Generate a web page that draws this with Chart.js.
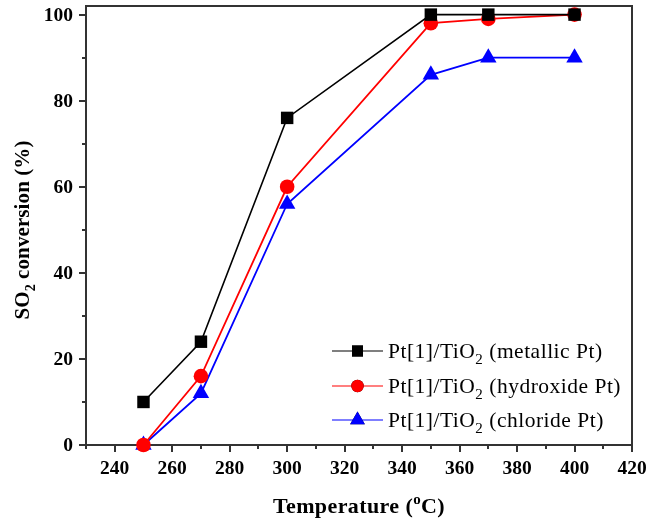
<!DOCTYPE html>
<html>
<head>
<meta charset="utf-8">
<script src="https://cdn.jsdelivr.net/npm/chart.js@4"></script>
<style>
  html, body { margin: 0; padding: 0; background: #fff; }
  #wrap { width: 659px; height: 521px; position: relative; }
</style>
</head>
<body>
<div id="wrap"><canvas id="c" width="659" height="521"></canvas></div>
<script>
// Reaction temperatures (°C)
const temperatures = [250, 270, 300, 350, 370, 400];
// SO2 conversion (%) for each catalyst precursor
const metallicPt  = [10, 24, 76, 100, 100, 100];
const hydroxidePt = [0, 16, 60, 98, 99, 100];
const chloridePt  = [0, 12, 56, 86, 90, 90];

const seriesNames = ['(metallic Pt)', '(hydroxide Pt)', '(chloride Pt)'];
const xTickLabels = [240, 260, 280, 300, 320, 340, 360, 380, 400, 420];
const yTickLabels = [0, 20, 40, 60, 80, 100];

const SERIF = '"Liberation Serif", "Times New Roman", serif';
const FRAME = '#333333';

function pts(ys) { return temperatures.map((t, i) => ({ x: t, y: ys[i] })); }

// Frame, tick marks (major every 20, minor every 10) and tick labels
const framePlugin = {
  id: 'frame',
  beforeDatasetsDraw(chart) {
    const { ctx, chartArea: a, scales: { x, y } } = chart;
    ctx.save();
    ctx.strokeStyle = FRAME;
    ctx.lineWidth = 2;
    ctx.strokeRect(a.left, a.top, a.right - a.left, a.bottom - a.top);
    ctx.beginPath();
    for (let v = 230; v <= 420; v += 10) {
      const px = Math.round(x.getPixelForValue(v));
      const len = v % 20 === 0 ? 7 : 4;
      ctx.moveTo(px, a.bottom);
      ctx.lineTo(px, a.bottom + len);
    }
    for (let v = 0; v <= 100; v += 10) {
      const py = Math.round(y.getPixelForValue(v));
      const len = v % 20 === 0 ? 7 : 4;
      ctx.moveTo(a.left, py);
      ctx.lineTo(a.left - len, py);
    }
    ctx.stroke();

    ctx.fillStyle = '#000';
    ctx.font = `bold 19.5px ${SERIF}`;
    ctx.textBaseline = 'middle';
    ctx.textAlign = 'center';
    xTickLabels.forEach(v => ctx.fillText(String(v), x.getPixelForValue(v), a.bottom + 24));
    ctx.textAlign = 'right';
    yTickLabels.forEach(v => ctx.fillText(String(v), a.left - 13, y.getPixelForValue(v) + 1));
    ctx.restore();
  }
};

// Text with a lowered/raised small piece: parts = [[text, mode], ...]
function drawRich(ctx, parts, size, weight, x, y, align, spacing) {
  const small = Math.round(size * 0.68);
  const fontFor = m => `${weight} ${m === 'n' ? size : small}px ${SERIF}`;
  ctx.letterSpacing = (spacing || 0) + 'px';
  let total = 0;
  parts.forEach(([t, m]) => { ctx.font = fontFor(m); total += ctx.measureText(t).width; });
  let cx = align === 'center' ? x - total / 2 : x;
  ctx.textAlign = 'left';
  ctx.textBaseline = 'alphabetic';
  parts.forEach(([t, m]) => {
    ctx.font = fontFor(m);
    const dy = m === 'sub' ? size * 0.28 : m === 'sup' ? -size * 0.42 : 0;
    ctx.fillText(t, cx, y + dy);
    cx += ctx.measureText(t).width;
  });
  ctx.letterSpacing = '0px';
}

// Axis titles and legend
const labelsPlugin = {
  id: 'labels',
  afterDraw(chart) {
    const { ctx, chartArea: a } = chart;
    ctx.save();
    ctx.fillStyle = '#000';
    // x title
    drawRich(ctx, [['Temperature (', 'n'], ['o', 'sup'], ['C)', 'n']], 22, 'bold',
      (a.left + a.right) / 2, 513, 'center', 0.4);
    // y title
    ctx.save();
    ctx.translate(29, 230);
    ctx.rotate(-Math.PI / 2);
    drawRich(ctx, [['SO', 'n'], ['2', 'sub'], [' conversion (%)', 'n']], 21, 'bold', 0, 0, 'center', 0.1);
    ctx.restore();

    // legend
    const rows = [351, 386, 420];
    chart.data.datasets.forEach((ds, i) => {
      const yy = rows[i];
      ctx.strokeStyle = ds.borderColor;
      ctx.lineWidth = 1.2;
      ctx.beginPath();
      ctx.moveTo(332, yy);
      ctx.lineTo(383, yy);
      ctx.stroke();
      Chart.helpers.drawPoint(ctx, {
        pointStyle: ds.pointStyle, radius: ds.legendRadius, rotation: 0, borderWidth: 0
      }, 357.5, yy);
      ctx.fillStyle = ds.backgroundColor;
      ctx.fill();
      ctx.fillStyle = '#000';
      drawRich(ctx, [['Pt[1]/TiO', 'n'], ['2', 'sub'], [' ' + seriesNames[i], 'n']], 21.5, 'normal', 388, yy + 7, 'left', 0.5);
    });
    ctx.restore();
  }
};

function series(label, data, color, style, radius, lw, legendRadius) {
  return {
    label, data: pts(data),
    borderColor: color, backgroundColor: color,
    pointBackgroundColor: color, pointBorderColor: color, pointBorderWidth: 0,
    pointStyle: style, pointRadius: radius, pointHoverRadius: radius,
    borderWidth: lw, showLine: true, tension: 0, clip: false,
    legendRadius
  };
}

new Chart(document.getElementById('c'), {
  type: 'scatter',
  data: {
    datasets: [
      series('metallic', metallicPt, '#000000', 'rect', 8.8, 1.6, 7.8),
      series('hydroxide', hydroxidePt, '#ff0000', 'circle', 7.3, 1.8, 6.2),
      series('chloride', chloridePt, '#0000ff', 'triangle', 9.5, 1.8, 8.5)
    ]
  },
  options: {
    responsive: false,
    animation: false,
    devicePixelRatio: 1,
    layout: { autoPadding: false, padding: { left: 0, top: 6, right: 27, bottom: 0 } },
    plugins: { legend: { display: false }, tooltip: { enabled: false } },
    scales: {
      x: {
        type: 'linear', min: 230, max: 420,
        grid: { display: false, drawTicks: false },
        border: { display: false },
        ticks: { display: false },
        afterFit(s) { s.height = 76; }
      },
      y: {
        type: 'linear', min: 0, max: 102,
        grid: { display: false, drawTicks: false },
        border: { display: false },
        ticks: { display: false },
        afterFit(s) { s.width = 86; }
      }
    }
  },
  plugins: [framePlugin, labelsPlugin]
});
</script>
</body>
</html>
